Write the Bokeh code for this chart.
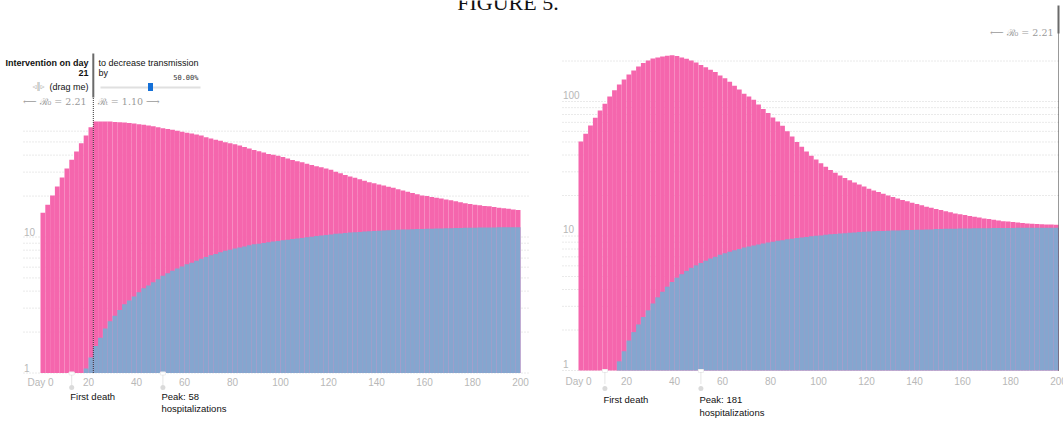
from bokeh.plotting import figure
from bokeh.models import Range1d, Label, LogScale
from bokeh.embed import file_html
from bokeh.resources import INLINE
from bokeh.core.properties import value

# ---------------- data ----------------
days = list(range(0, 200, 2))  # one bar per two days

left_total = [
    15.1, 17.3, 20.2, 23.5, 27.4, 31.9, 37.0, 42.6, 48.8, 55.7, 64.1,
    70.7, 70.7, 70.7, 70.6, 70.0, 69.8, 69.6, 69.0, 68.4, 67.6,
    66.8, 66.1, 65.1, 64.0, 63.0, 62.2, 61.4, 60.4, 59.3, 58.3,
    57.6, 56.8, 55.7, 54.2, 52.9, 51.9, 51.0, 49.8, 48.9, 48.0,
    47.0, 45.8, 44.8, 43.6, 42.7, 41.8, 40.8, 40.2, 39.5, 38.7,
    37.8, 36.9, 36.1, 35.4, 34.6, 33.9, 33.2, 32.6, 31.9, 31.2,
    30.2, 29.4, 28.6, 27.9, 27.3, 26.6, 25.9, 25.3, 24.8, 24.3,
    23.9, 23.4, 23.0, 22.4, 22.0, 21.5, 21.1, 20.6, 20.2, 20.0,
    19.7, 19.4, 19.2, 18.9, 18.6, 18.3, 18.0, 17.7, 17.5, 17.3,
    17.1, 16.9, 16.8, 16.6, 16.4, 16.3, 16.1, 15.9, 15.8,
]
left_blue = [
    0, 0, 0, 0, 0, 0, 0, 0, 0, 1.08, 1.3,
    1.58, 1.82, 2.12, 2.4, 2.64, 2.91, 3.2, 3.41, 3.65, 3.93,
    4.2, 4.39, 4.65, 4.9, 5.18, 5.42, 5.64, 5.86, 6.06, 6.3,
    6.48, 6.7, 6.93, 7.14, 7.34, 7.51, 7.73, 7.91, 8.05, 8.23,
    8.37, 8.5, 8.7, 8.84, 8.93, 9.04, 9.14, 9.25, 9.35, 9.45,
    9.55, 9.65, 9.75, 9.85, 9.95, 10.05, 10.15, 10.25, 10.35, 10.45,
    10.55, 10.62, 10.7, 10.77, 10.84, 10.9, 10.96, 11.02, 11.07, 11.12,
    11.17, 11.21, 11.25, 11.29, 11.33, 11.37, 11.4, 11.43, 11.46, 11.49,
    11.52, 11.55, 11.57, 11.6, 11.62, 11.64, 11.66, 11.68, 11.7, 11.72,
    11.73, 11.74, 11.75, 11.76, 11.77, 11.78, 11.79, 11.8, 11.8,
]
right_total = [
    50.4, 57.5, 66.3, 75.7, 85.8, 96.1, 109, 121, 134, 146, 159,
    170, 182, 193, 202, 209, 212, 216, 219, 221, 218,
    212, 208, 202, 195, 187, 180, 172, 166, 156, 149,
    140, 131, 123, 114, 109, 103, 95, 88, 82, 76,
    71, 66, 60, 55, 50, 46, 42.5, 39.5, 37, 34.7,
    32.7, 31, 29.5, 28.2, 27, 26, 25, 24.1, 23.3, 22.5,
    21.8, 21.2, 20.6, 20, 19.5, 19, 18.5, 18.1, 17.7, 17.3,
    16.9, 16.5, 16.2, 15.9, 15.6, 15.3, 15, 14.7, 14.5, 14.3,
    14.1, 13.9, 13.7, 13.5, 13.35, 13.2, 13.05, 12.9, 12.8, 12.7,
    12.6, 12.5, 12.4, 12.35, 12.3, 12.25, 12.2, 12.15, 12.1,
]
right_blue = [
    0, 0, 0, 0, 0, 0, 0, 0, 1.17, 1.39, 1.67,
    1.93, 2.2, 2.5, 2.8, 3.15, 3.5, 3.85, 4.2, 4.55, 4.9,
    5.2, 5.5, 5.8, 6.05, 6.3, 6.55, 6.8, 7.0, 7.25, 7.45,
    7.65, 7.85, 8.0, 8.2, 8.35, 8.5, 8.65, 8.8, 8.95, 9.05,
    9.2, 9.3, 9.45, 9.55, 9.65, 9.75, 9.85, 9.95, 10.05, 10.1,
    10.2, 10.3, 10.35, 10.45, 10.5, 10.55, 10.6, 10.7, 10.75, 10.8,
    10.85, 10.9, 10.9, 10.95, 11.0, 11.0, 11.05, 11.1, 11.1, 11.15,
    11.15, 11.2, 11.2, 11.25, 11.25, 11.3, 11.3, 11.3, 11.35, 11.35,
    11.35, 11.4, 11.4, 11.4, 11.4, 11.45, 11.45, 11.45, 11.45, 11.45,
    11.5, 11.5, 11.5, 11.5, 11.5, 11.5, 11.5, 11.5, 11.5,
]

x_tick_values = [0, 20, 40, 60, 80, 100, 120, 140, 160, 180, 200]
x_tick_labels = ["Day 0", "20", "40", "60", "80", "100", "120", "140", "160", "180", "200"]
left_grid_values = [1, 2, 3, 4, 5, 6, 7, 8, 9, 10, 20, 30, 40, 50, 60]
right_grid_values = [1, 2, 3, 4, 5, 6, 7, 8, 9, 10, 20, 30, 40, 50, 60, 70, 80, 90, 100, 200]
left_y_ticks = [1, 10]
left_y_labels = ["1", "10"]
right_y_ticks = [1, 10, 100]
right_y_labels = ["1", "10", "100"]

intervention_day = 21
reduction_pct = 0.50
r0_text = "⟵ ℛ₀ = 2.21"
rt_text = "ℛₜ = 1.10 ⟶"
left_first_death_day = 12
left_peak_day = 50
left_peak_value = 58
right_first_death_day = 10
right_peak_day = 50
right_peak_value = 181
title_text = "FIGURE 5."

# ---------------- styles / geometry ----------------
PINK = "#f566ad"
BLUE = "#85a6cf"
TICK_GRAY = "#b8b8b8"
GRID_GRAY = "#d4d4d4"
SANS = "Liberation Sans"
SERIF = "DejaVu Serif"

W, H = 1063, 421          # one canvas holding both panels
PAGE_LEFT, PAGE_TOP = 0, 0
PX_PER_DAY = 2.4
L_DAY0_X, R_DAY0_X = 40.0, 578.0      # page x of day 0
L_ONE_Y, R_ONE_Y = 372.5, 370.0       # page y of value 1
L_DEC, R_DEC = 136.0, 134.5           # pixels per decade


def day_at(px, day0):
    return (px - day0) / PX_PER_DAY


def val_at(py, one_y, dec):
    return 10 ** ((one_y - py) / dec)


def Ld(px):
    return day_at(px, L_DAY0_X)


def Lv(py):
    return val_at(py, L_ONE_Y, L_DEC)


def Rd(px):
    return day_at(px, R_DAY0_X)


def Rv(py):
    return val_at(py, R_ONE_Y, R_DEC)


p = figure(width=W, height=H,
           x_range=Range1d(Ld(PAGE_LEFT), Ld(PAGE_LEFT + W)),
           y_range=Range1d(Lv(PAGE_TOP + H), Lv(PAGE_TOP)),
           y_axis_type="log", x_axis_location=None, y_axis_location=None,
           title=None, output_backend="svg", toolbar_location=None,
           min_border=0)
p.extra_x_ranges = {"r": Range1d(Rd(PAGE_LEFT), Rd(PAGE_LEFT + W))}
p.extra_y_ranges = {"r": Range1d(Rv(PAGE_TOP + H), Rv(PAGE_TOP))}
p.extra_y_scales = {"r": LogScale()}
p.outline_line_color = None
p.grid.visible = False
p.background_fill_color = "white"
p.border_fill_color = "white"


def lab(x, y, text, rng="default", align="left", size="9px", color="#111111",
        style="normal", font=SANS, baseline="middle"):
    p.add_layout(Label(x=x, y=y, text=text, x_range_name=rng, y_range_name=rng,
                       text_align=align, text_baseline=baseline, text_font_size=size,
                       text_color=color, text_font_style=style, text_font=font))


def panel(rng, total, blue, grid_vals, grid_x0, grid_x1, yticks, ylabels, ylab_x,
          ylab_off, xlab_y):
    # dotted horizontal grid lines
    n = len(grid_vals)
    p.segment(x0=[grid_x0] * n, y0=grid_vals, x1=[grid_x1] * n, y1=grid_vals,
              line_color=GRID_GRAY, line_dash="1 2", line_width=1,
              x_range_name=rng, y_range_name=rng)
    centers = [d + 1 for d in days]
    p.vbar(x=centers, width=2.0, bottom=1, top=total, fill_color=PINK, line_color=None,
           x_range_name=rng, y_range_name=rng)
    bx = [c for c, b in zip(centers, blue) if b >= 1]
    bv = [b for b in blue if b >= 1]
    p.vbar(x=bx, width=2.0, bottom=1, top=bv, fill_color=BLUE, line_color=None,
           x_range_name=rng, y_range_name=rng)
    # y tick labels
    p.text(x=[ylab_x] * len(yticks), y=yticks, text=ylabels, text_align="left",
           text_baseline="middle", y_offset=ylab_off, text_color=TICK_GRAY,
           text_font_size="10px", text_font=value(SANS), x_range_name=rng, y_range_name=rng)
    # x tick labels
    p.text(x=x_tick_values, y=[xlab_y] * len(x_tick_values), text=x_tick_labels,
           text_align="center", text_baseline="middle", text_color=TICK_GRAY,
           text_font_size="10px", text_font=value(SANS), x_range_name=rng, y_range_name=rng)


def marker(rng, day, stub_top, stub_bot, circ, notch, t1, t2, text1, text2=None):
    p.rect(x=[day], y=[notch], width=5, height=3, width_units="screen",
           height_units="screen", fill_color="white", line_color="#eeeeee",
           x_range_name=rng, y_range_name=rng)
    p.segment(x0=[day], y0=[stub_top], x1=[day], y1=[stub_bot], line_color="#cccccc",
              line_dash="1 1", line_width=1, x_range_name=rng, y_range_name=rng)
    p.scatter(x=[day], y=[circ], size=5, fill_color="#dadada", line_color=None,
              x_range_name=rng, y_range_name=rng)
    lab(day - 0.6, t1, text1, rng=rng, size="9.5px")
    if text2:
        lab(day - 0.6, t2, text2, rng=rng, size="9.5px")


# ---------------- left panel ----------------
panel("default", left_total, left_blue, left_grid_values, Ld(23), Ld(530),
      left_y_ticks, left_y_labels, Ld(23.5), -5, Lv(381.5))

line_x = intervention_day + 1
p.segment(x0=[line_x], y0=[1], x1=[line_x], y1=[Lv(97)], line_color="#333333",
          line_dash="1 1", line_width=1)
p.segment(x0=[line_x], y0=[Lv(97)], x1=[line_x], y1=[Lv(53)], line_color="#6a6a6a",
          line_width=2)

lab(Ld(88), Lv(62), "Intervention on day", align="right", style="bold")
lab(Ld(88), Lv(72.5), str(intervention_day), align="right", style="bold")
lab(Ld(88), Lv(86), "(drag me)", align="right")
lab(Ld(44), Lv(86), "◃‖▹", align="right", size="8px", color="#aaaaaa", font="DejaVu Sans")
lab(Ld(86), Lv(101), r0_text, align="right", size="9.5px", color="#9a9a9a", font=SERIF)
lab(Ld(98), Lv(62), "to decrease transmission")
lab(Ld(98), Lv(72.5), "by")
lab(Ld(198), Lv(77), f"{reduction_pct * 100:.2f}%", align="right", size="7px",
    color="#333333", font="DejaVu Sans Mono")
lab(Ld(97), Lv(101), rt_text, size="9.5px", color="#9a9a9a", font=SERIF)

track_start, track_end = Ld(100), Ld(200)
p.segment(x0=[track_start], y0=[Lv(87)], x1=[track_end], y1=[Lv(87)],
          line_color="#e0e0e0", line_width=2)
handle_x = track_start + reduction_pct * (track_end - track_start)
p.rect(x=[handle_x], y=[Lv(86.5)], width=5, height=8, width_units="screen",
       height_units="screen", fill_color="#1470d8", line_color=None)

marker("default", left_first_death_day + 1, Lv(375), Lv(384), Lv(387), Lv(373),
       Lv(396), None, "First death")
marker("default", left_peak_day + 1, Lv(375), Lv(384), Lv(387), Lv(373),
       Lv(396), Lv(407.5), f"Peak: {left_peak_value}", "hospitalizations")

# ---------------- right panel ----------------
panel("r", right_total, right_blue, right_grid_values, Rd(562), 200,
      right_y_ticks, right_y_labels, Rd(562.5), -7, Rv(380.7))
p.segment(x0=[200], y0=[1], x1=[200], y1=[Rv(33)], line_color="#333333",
          line_dash="1 1", line_width=1, x_range_name="r", y_range_name="r")
p.segment(x0=[200], y0=[Rv(33)], x1=[200], y1=[Rv(5)], line_color="#6a6a6a",
          line_width=2, x_range_name="r", y_range_name="r")
lab(Rd(1053), Rv(31.5), r0_text, rng="r", align="right", size="9.5px", color="#9a9a9a",
    font=SERIF)

marker("r", right_first_death_day + 1, Rv(372), Rv(384), Rv(388), Rv(370.5),
       Rv(399.3), None, "First death")
marker("r", right_peak_day + 1, Rv(372), Rv(384), Rv(388), Rv(370.5),
       Rv(399.3), Rv(412), f"Peak: {right_peak_value}", "hospitalizations")

# ---------------- figure caption (cut at the top) ----------------
lab(Ld(507.5), Lv(2), title_text, align="center", size="22px", color="#111111",
    font="Liberation Serif", baseline="alphabetic")

open("out.html", "w").write(file_html(p, INLINE))
